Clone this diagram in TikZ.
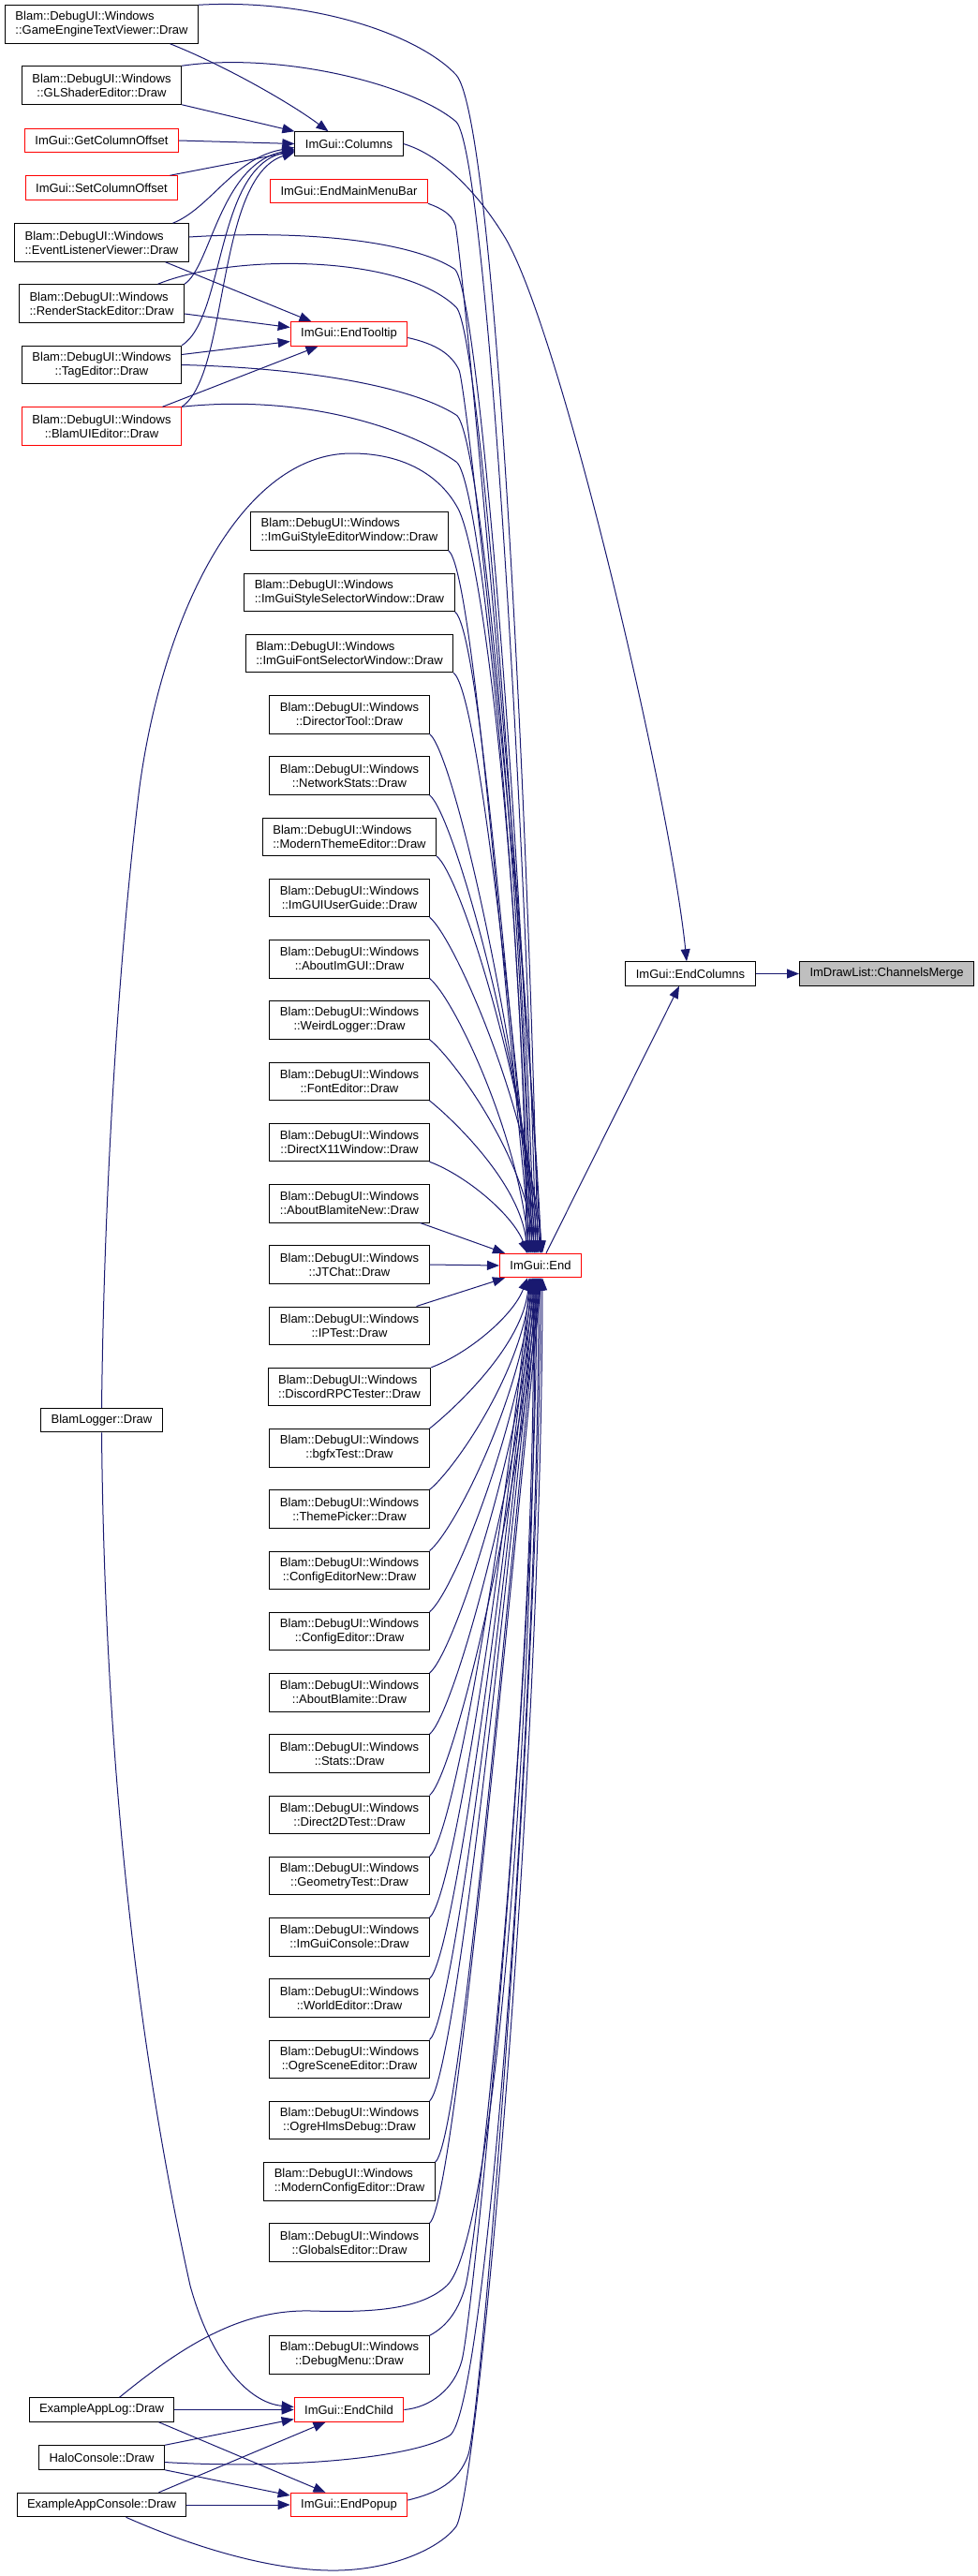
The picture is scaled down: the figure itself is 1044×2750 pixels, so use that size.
\documentclass[tikz,border=0pt]{standalone}
\usepackage{fontspec}
\setmainfont{Liberation Sans}
\usetikzlibrary{arrows.meta}
\definecolor{edgec}{HTML}{191970}
\definecolor{gfill}{HTML}{BFBFBF}
\newcommand\dxtwo[2]{\begingroup\setbox0=\hbox{#1}\setbox2=\hbox{#2}%
\dimen0=\wd0 \ifdim\wd2>\dimen0 \dimen0=\wd2 \fi
\vbox{\baselineskip=15pt\lineskiplimit=-20pt\hbox to\dimen0{\box0\hfil}\hbox to\dimen0{\hfil\box2\hfil}}\endgroup}
\begin{document}
\begin{tikzpicture}[x=1pt,y=-1pt,
  nd/.style={draw=black, line width=1pt, fill=white, inner xsep=11pt, inner ysep=0pt, minimum height=25.5pt, font=\fontsize{13}{15}\selectfont},
  nd2/.style={nd, minimum height=40.5pt},
  rd/.style={draw=red},
  e/.style={draw=edgec, line width=1pt, -{Triangle[length=13pt,width=10pt]}}]
\useasboundingbox (0,0) rectangle (1044,2750);
% left column
\node[nd2] (getv) at (108.5,26) {\dxtwo{Blam::DebugUI::Windows}{::GameEngineTextViewer::Draw}};
\node[nd2] (gls) at (108.5,91) {\dxtwo{Blam::DebugUI::Windows}{::GLShaderEditor::Draw}};
\node[nd,rd] (gco) at (108.5,150) {ImGui::GetColumnOffset};
\node[nd,rd] (sco) at (108.5,200.5) {ImGui::SetColumnOffset};
\node[nd2] (elv) at (108.5,259) {\dxtwo{Blam::DebugUI::Windows}{::EventListenerViewer::Draw}};
\node[nd2] (rse) at (108.5,324) {\dxtwo{Blam::DebugUI::Windows}{::RenderStackEditor::Draw}};
\node[nd2] (tag) at (108.5,389.5) {\dxtwo{Blam::DebugUI::Windows}{::TagEditor::Draw}};
\node[nd2,rd] (bui) at (108.5,455) {\dxtwo{Blam::DebugUI::Windows}{::BlamUIEditor::Draw}};
\node[nd] (blog) at (108.5,1516) {BlamLogger::Draw};
\node[nd] (eal) at (108.5,2572.5) {ExampleAppLog::Draw};
\node[nd] (halo) at (108.5,2623.5) {HaloConsole::Draw};
\node[nd] (eac) at (108.5,2674) {ExampleAppConsole::Draw};
% middle column
\node[nd] (col) at (372.5,153.5) {ImGui::Columns};
\node[nd,rd] (emm) at (372.5,204) {ImGui::EndMainMenuBar};
\node[nd,rd] (ett) at (372.5,356.5) {ImGui::EndTooltip};
\foreach \nm [count=\i from 0] in {ImGuiStyleEditorWindow,ImGuiStyleSelectorWindow,ImGuiFontSelectorWindow,DirectorTool,NetworkStats,ModernThemeEditor,ImGUIUserGuide,AboutImGUI,WeirdLogger,FontEditor,DirectX11Window,AboutBlamiteNew,JTChat,IPTest,DiscordRPCTester,bgfxTest,ThemePicker,ConfigEditorNew,ConfigEditor,AboutBlamite,Stats,Direct2DTest,GeometryTest,ImGuiConsole,WorldEditor,OgreSceneEditor,OgreHlmsDebug,ModernConfigEditor,GlobalsEditor}
  \node[nd2] (m\i) at (373,{567+65.25*\i}) {\dxtwo{Blam::DebugUI::Windows}{::\nm::Draw}};
\node[nd2] (dmenu) at (373,2514) {\dxtwo{Blam::DebugUI::Windows}{::DebugMenu::Draw}};
\node[nd,rd] (ech) at (372.5,2572.5) {ImGui::EndChild};
\node[nd,rd] (epp) at (372.5,2674) {ImGui::EndPopup};
% right
\node[nd,rd] (imend) at (577,1351) {ImGui::End};
\node[nd] (ecol) at (737,1039.5) {ImGui::EndColumns};
\node[nd,fill=gfill] (cm) at (946.5,1039.5) {ImDrawList::ChannelsMerge};

% ---- edges ----
\draw[e] (ecol.east) -- (cm.west);
\draw[e] ([xshift=6pt]imend.north) -- ([xshift=-12pt]ecol.south);
\draw[e] (col.east) .. controls (470,165) and (510,205) .. (540,255) .. controls (600,360) and (715,850) .. ([xshift=-4pt]ecol.north);

% to Columns
\draw[e] ([xshift=73pt]getv.south) .. controls (240,70) and (310,110) .. ([xshift=-22pt]col.north);
\draw[e] (gls.south east) -- (col.north west);
\draw[e] (gco.east) -- (col.west);
\draw[e] ([xshift=73pt]sco.north) -- ([yshift=-8pt]col.west);
\draw[e] ([xshift=76pt]elv.north) .. controls (225,222) and (250,168) .. ([yshift=-4pt]col.west);
\draw[e] (rse.north east) .. controls (225,285) and (235,175) .. ([yshift=-6pt]col.west);
\draw[e] (tag.north east) .. controls (240,340) and (230,180) .. ([yshift=-7pt]col.west);
\draw[e] (bui.north east) .. controls (245,400) and (230,190) .. ([yshift=-9pt]col.west);

% to EndTooltip
\draw[e] ([xshift=68pt]elv.south) -- ([xshift=-40pt]ett.north);
\draw[e] ([yshift=-11pt]rse.east) -- ([yshift=7pt]ett.west);
\draw[e] ([yshift=11pt]tag.east) -- ([yshift=-8pt]ett.west);
\draw[e] ([xshift=65pt]bui.north) -- ([xshift=-33pt]ett.south);

% upper sources to End
\draw[e] (getv.north east) .. controls (340,-2) and (450,40) .. (487,80) .. controls (530,130) and (565,900) .. ([xshift=-3pt]imend.north);
\draw[e] (gls.north east) .. controls (300,55) and (440,90) .. (487,130) .. controls (520,165) and (562,900) .. ([xshift=-5pt]imend.north);
\draw[e] ([yshift=6pt]elv.east) .. controls (330,245) and (440,258) .. (485,287) .. controls (512,305) and (560,950) .. ([xshift=-7pt]imend.north);
\draw[e] ([xshift=60pt]rse.north) .. controls (250,270) and (430,272) .. (487,328) .. controls (513,354) and (560,1000) .. ([xshift=-9pt]imend.north);
\draw[e] (tag.east) .. controls (330,393) and (440,413) .. (487,443) .. controls (515,461) and (560,1000) .. ([xshift=-11pt]imend.north);
\draw[e] (bui.north east) .. controls (330,420) and (440,460) .. (487,493) .. controls (515,513) and (558,1000) .. ([xshift=-13pt]imend.north);
\draw[e] (emm.south east) .. controls (470,222) and (482,228) .. (486,240) .. controls (492,258) and (562,1000) .. (imend.north);
\draw[e] ([yshift=-4pt]ett.east) .. controls (465,367) and (482,378) .. (490,395) .. controls (498,412) and (562,1000) .. ([xshift=1pt]imend.north);
\draw[e] (blog.north) .. controls (112,1200) and (135,950) .. (149,840) .. controls (175,650) and (260,484) .. (375,484) .. controls (440,484) and (475,515) .. (490,545) .. controls (520,610) and (560,1000) .. ([xshift=-15pt]imend.north);

% middle nodes above End
\foreach \i/\ox in {0/-10,1/-8,2/-6,3/-4,4/-2,5/0,6/2,7/-12,8/-6,9/-14} {
  \pgfmathsetmacro\L{0.45*(1339-(587+65.25*\i))}
  \draw[e] (m\i.south east) .. controls +(25,20) and +({-0.1*\L},{-\L}) .. ([xshift=\ox pt]imend.north);
}
\draw[e] (m10.south east) .. controls +(40,15) and +(-15,-40) .. ([xshift=-14pt]imend.north);
\draw[e] ([xshift=-10pt]m11.south east) -- ([xshift=6pt]imend.north west);
\draw[e] (m12.east) -- (imend.west);
\draw[e] ([xshift=-14pt]m13.north east) -- ([xshift=6pt]imend.south west);
\draw[e] (m14.north east) .. controls +(40,-15) and +(-15,40) .. ([xshift=-14pt]imend.south);

% middle nodes below End
\foreach \i/\ox in {15/-12,16/-10,17/-8,18/-6,19/-4,20/-2,21/0,22/-11,23/-9,24/-7,25/-5,26/-3,27/-1,28/1} {
  \pgfmathsetmacro\L{0.45*((547+65.25*\i)-1363)}
  \draw[e] (m\i.north east) .. controls +(25,-20) and +({-0.1*\L},{\L}) .. ([xshift=\ox pt]imend.south);
}

% lower sources to End
\draw[e] (dmenu.north east) .. controls (478,2483) and (490,2465) .. (497,2440) .. controls (510,2390) and (574,1800) .. ([xshift=-8pt]imend.south);
\draw[e] ([xshift=19pt]eal.north) .. controls (200,2500) and (260,2465) .. (333,2467) .. controls (400,2469) and (450,2465) .. (477,2440) .. controls (530,2390) and (572,1800) .. ([xshift=-6pt]imend.south);
\draw[e] (ech.east) .. controls (460,2570) and (485,2550) .. (493,2520) .. controls (505,2475) and (572,1800) .. ([xshift=-4pt]imend.south);
\draw[e] ([yshift=-5pt]halo.east) .. controls (300,2636) and (440,2625) .. (480,2600) .. controls (520,2575) and (575,1800) .. ([xshift=-2pt]imend.south);
\draw[e] ([yshift=5pt]epp.east) .. controls (465,2662) and (490,2650) .. (500,2620) .. controls (515,2570) and (576,1800) .. (imend.south);
\draw[e] ([xshift=26pt]eac.south) .. controls (220,2725) and (300,2745) .. (360,2744) .. controls (420,2743) and (470,2720) .. (487,2697) .. controls (510,2660) and (578,1900) .. ([xshift=2pt]imend.south);

% BlamLogger to EndChild
\draw[e] (blog.south) .. controls (112,1900) and (150,2200) .. (203,2440) .. controls (225,2520) and (265,2565) .. ([yshift=3pt]ech.west);

% bottom group
\draw[e] (eal.east) -- (ech.west);
\draw[e] (halo.north east) -- ([yshift=-10pt]ech.west);
\draw[e] ([xshift=61pt]eac.north) -- ([xshift=-25pt]ech.south);
\draw[e] ([xshift=61pt]eal.south) -- ([xshift=-25pt]epp.north);
\draw[e] (halo.south east) -- ([yshift=10pt]epp.west);
\draw[e] (eac.east) -- (epp.west);
\end{tikzpicture}
\end{document}
